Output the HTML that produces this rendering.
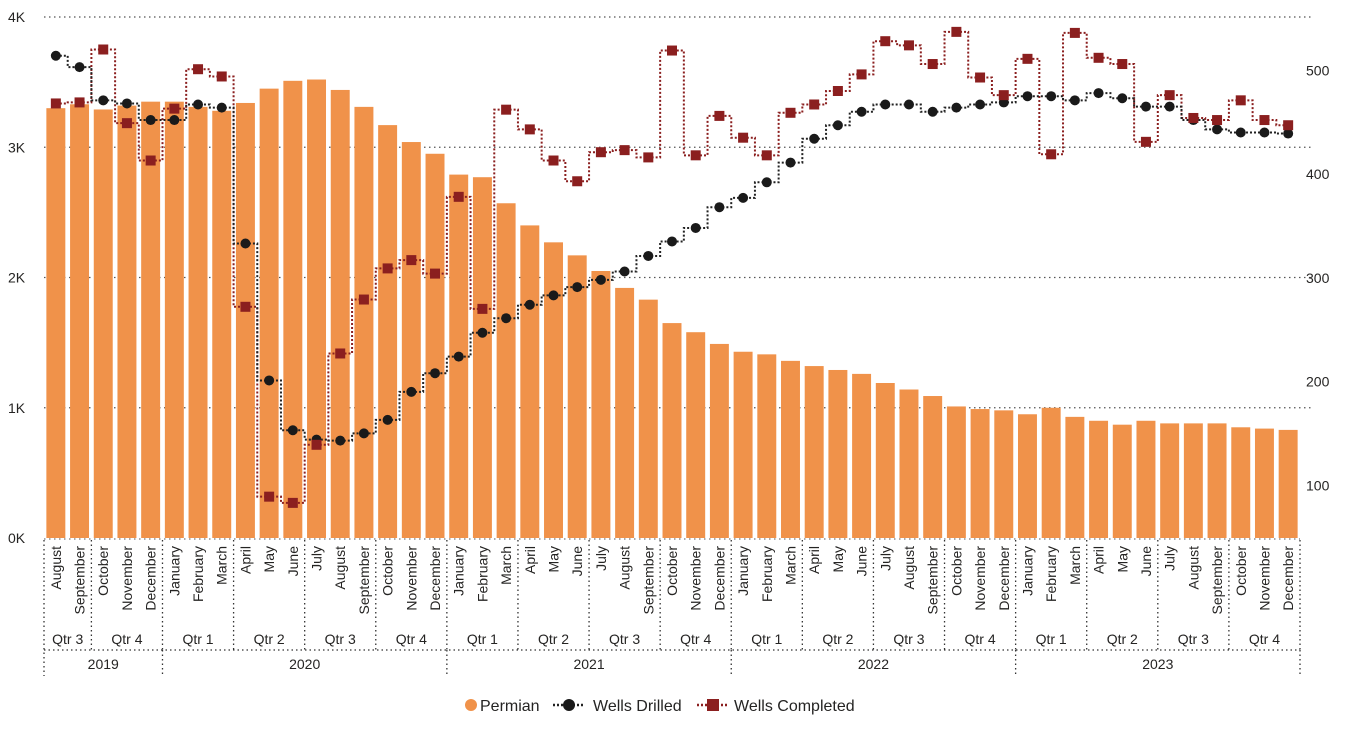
<!DOCTYPE html>
<html><head><meta charset="utf-8"><style>
body{margin:0;background:#fff;font-family:"Liberation Sans",sans-serif;}
svg text{font-family:"Liberation Sans",sans-serif;fill:#252423;}
</style></head><body>
<svg id="c" width="1354" height="725" xmlns="http://www.w3.org/2000/svg"></svg>
<script>
const months=["August","September","October","November","December"];
const allMonths=["January","February","March","April","May","June","July","August","September","October","November","December"];
const categories=months.concat(allMonths,allMonths,allMonths,allMonths);
const permian=[3300,3330,3290,3320,3350,3350,3310,3280,3340,3450,3510,3520,3440,3310,3170,3040,2950,2790,2770,2570,2400,2270,2170,2050,1920,1830,1650,1580,1490,1430,1410,1360,1320,1290,1260,1190,1140,1090,1010,990,980,950,1000,930,900,870,900,880,880,880,850,840,830];
const drilled=[514,503,471,468,452,452,467,464,333,201,153,144,143,150,163,190,208,224,247,261,274,283,291,298,306,321,335,348,368,377,392,411,434,447,460,467,467,460,464,467,469,475,475,471,478,473,465,465,452,443,440,440,439];
const completed=[468,469,520,449,413,463,501,494,272,89,83,139,227,279,309,317,304,378,270,462,443,413,393,421,423,416,519,418,456,435,418,459,467,480,496,528,524,506,537,493,476,511,419,536,512,506,431,476,454,452,471,452,447];
const leftTicks=[0,1000,2000,3000,4000];
const leftTickLabels=["0K","1K","2K","3K","4K"];
const rightTicks=[100,200,300,400,500];
const quarters=[["Qtr 3",0,1],["Qtr 4",2,4],["Qtr 1",5,7],["Qtr 2",8,10],["Qtr 3",11,13],["Qtr 4",14,16],["Qtr 1",17,19],["Qtr 2",20,22],["Qtr 3",23,25],["Qtr 4",26,28],["Qtr 1",29,31],["Qtr 2",32,34],["Qtr 3",35,37],["Qtr 4",38,40],["Qtr 1",41,43],["Qtr 2",44,46],["Qtr 3",47,49],["Qtr 4",50,52]];
const years=[["2019",0,4],["2020",5,16],["2021",17,28],["2022",29,40],["2023",41,52]];

const svg=document.getElementById('c');const NS="http://www.w3.org/2000/svg";
function mk(t,a,p){const e=document.createElementNS(NS,t);for(const k in a)e.setAttribute(k,a[k]);(p||svg).appendChild(e);return e;}
const x0=44,x1=1300,band=(x1-x0)/categories.length;
const xc=i=>x0+band*(i+0.5);
const yL=v=>538-v*0.13025;
const yR=v=>589-v*1.0375;

leftTicks.forEach((v,i)=>{
 if(v>0){const g=mk('line',{x1:x0,x2:x1+12,y1:yL(v),y2:yL(v),stroke:'#555','stroke-dasharray':'1.5 3.5','stroke-width':1.3});
 }
 const t=mk('text',{x:8,y:yL(v)+5,'font-size':14});t.textContent=leftTickLabels[i];
 
});
rightTicks.forEach(v=>{const t=mk('text',{x:1306,y:yR(v)+5,'font-size':14});t.textContent=v;
 });
permian.forEach((v,i)=>{const b=mk('rect',{x:xc(i)-band*0.4,y:yL(v),width:band*0.8,height:538-yL(v),fill:'#F0924A'});
 });
mk('line',{x1:x0,x2:x1,y1:539,y2:539,stroke:'#555','stroke-dasharray':'1.5 3.5'});
function step(arr){let d=`M${xc(0)},${yR(arr[0])}`;for(let i=1;i<arr.length;i++){const m=x0+band*i;d+=` H${m} V${yR(arr[i])} H${xc(i)}`;}return d;}
const l1=mk('path',{d:step(completed),fill:'none',stroke:'#8B1F1F','stroke-width':2,'stroke-dasharray':'2 2'});

const l2=mk('path',{d:step(drilled),fill:'none',stroke:'#222','stroke-width':2,'stroke-dasharray':'2 2'});

drilled.forEach((v,i)=>{const c=mk('circle',{cx:xc(i),cy:yR(v),r:5,fill:'#1a1a1a'});
 });
completed.forEach((v,i)=>{const r=mk('rect',{x:xc(i)-5,y:yR(v)-5,width:10,height:10,fill:'#8B1F1F'});
 });
categories.forEach((m,i)=>{const t=mk('text',{transform:`translate(${xc(i)+5},546) rotate(-90)`,'font-size':14,'text-anchor':'end'});t.textContent=m;
 });
const dot={stroke:'#333','stroke-dasharray':'1.5 3','stroke-width':1.3};
quarters.forEach(q=>{const a=x0+band*q[1],b=x0+band*(q[2]+1);
 const t=mk('text',{x:(a+b)/2,y:644,'font-size':14,'text-anchor':'middle'});t.textContent=q[0];
 
 mk('line',Object.assign({x1:b,x2:b,y1:540,y2:650},dot));});
mk('line',Object.assign({x1:x0,x2:x1,y1:650,y2:650},dot));
years.forEach(q=>{const a=x0+band*q[1],b=x0+band*(q[2]+1);
 const t=mk('text',{x:(a+b)/2,y:669,'font-size':14,'text-anchor':'middle'});t.textContent=q[0];
 
 mk('line',Object.assign({x1:b,x2:b,y1:650,y2:676},dot));});
mk('line',Object.assign({x1:x0,x2:x0,y1:540,y2:676},dot));
const lg=mk('g',{});
mk('circle',{cx:471,cy:705,r:6,fill:'#F0924A'},lg);
let t=mk('text',{x:480,y:711,'font-size':16},lg);t.textContent='Permian';
mk('line',{x1:553,x2:585,y1:705,y2:705,stroke:'#222','stroke-width':2.5,'stroke-dasharray':'2 2'},lg);
mk('circle',{cx:569,cy:705,r:6,fill:'#1a1a1a'},lg);
t=mk('text',{x:593,y:711,'font-size':16},lg);t.textContent='Wells Drilled';
mk('line',{x1:697,x2:729,y1:705,y2:705,stroke:'#8B1F1F','stroke-width':2.5,'stroke-dasharray':'2 2'},lg);
mk('rect',{x:707,y:699,width:12,height:12,fill:'#8B1F1F'},lg);
t=mk('text',{x:734,y:711,'font-size':16},lg);t.textContent='Wells Completed';
</script>
</body></html>
